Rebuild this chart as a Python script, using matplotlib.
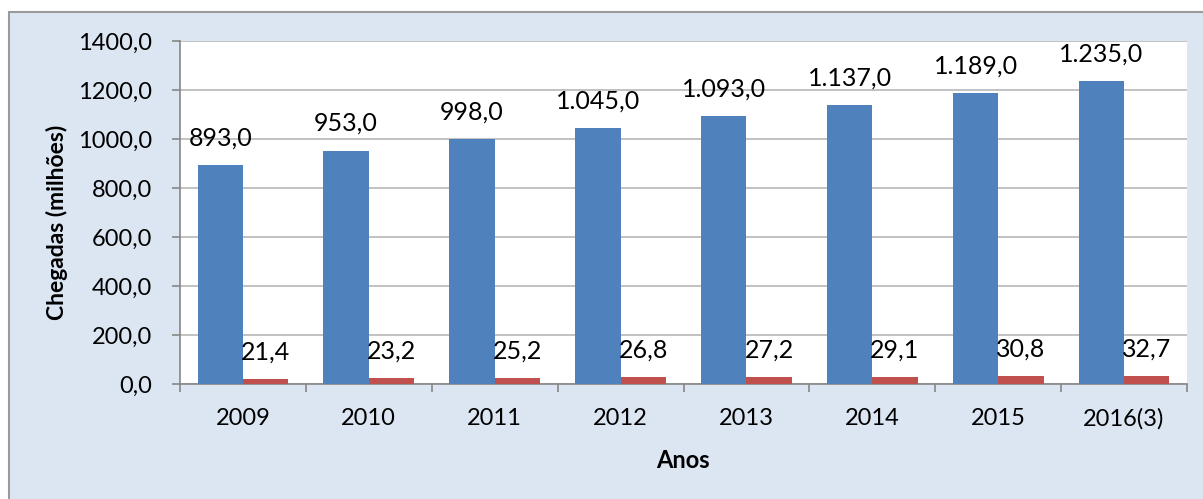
import matplotlib
matplotlib.use("Agg")
import matplotlib.pyplot as plt
from matplotlib.patches import Rectangle
import numpy as np

categories = ["2009", "2010", "2011", "2012", "2013", "2014", "2015", "2016(3)"]
world = [893.0, 953.0, 998.0, 1045.0, 1093.0, 1137.0, 1189.0, 1235.0]
region = [21.4, 23.2, 25.2, 26.8, 27.2, 29.1, 30.8, 32.7]
yticks = [0, 200, 400, 600, 800, 1000, 1200, 1400]

plt.rcParams['font.family'] = ['Lato', 'DejaVu Sans']

W, H = 1203, 499
fig = plt.figure(figsize=(W/100, H/100), dpi=100)
fig.patch.set_facecolor("white")
fig.patches.append(Rectangle((9/W, -0.1), 1.2, 1 - 12/H + 0.1, transform=fig.transFigure,
                             facecolor="#dce6f2", edgecolor="#9a9a9a", linewidth=1.5, zorder=-5))

ax = fig.add_axes([180/W, 1 - 384/H, (1187-180)/W, (384-41)/H])
ax.set_zorder(2)
ax.set_facecolor("white")

def fmt_num(v):
    s = f"{v:,.1f}"
    return s.replace(",", "X").replace(".", ",").replace("X", ".")

x = np.arange(len(categories))
w = 0.36
b1 = ax.bar(x - w/2, world, w, color="#4f81bd", zorder=3)
b2 = ax.bar(x + w/2, region, w, color="#c0504d", zorder=3)

for xi, v in zip(x - w/2, world):
    ax.annotate(fmt_num(v), (xi, v), xytext=(0, 19.5), textcoords="offset points",
                ha="center", va="center", fontsize=18, color="black")
for xi, v in zip(x + w/2, region):
    ax.annotate(fmt_num(v), (xi, v), xytext=(0, 19.5), textcoords="offset points",
                ha="center", va="center", fontsize=18, color="black")

ax.set_xlim(-0.5, len(categories) - 0.5)
ax.set_ylim(0, 1400)
ax.set_yticks(yticks)
ax.set_yticklabels([f"{t:.1f}".replace(".", ",") for t in yticks], fontsize=17)
ax.grid(axis="y", color="#b8b8b8", linewidth=1.2, zorder=0)
ax.set_axisbelow(True)

ax.set_xticks(x)
ax.set_xticklabels(categories, fontsize=17)
ax.tick_params(axis="x", length=0, pad=17)
ax.set_xticks(np.arange(-0.5, len(categories)), minor=True)
ax.tick_params(axis="x", which="minor", length=6, color="#868686", width=1.2)
ax.tick_params(axis="y", length=6, color="#868686", width=1.2, pad=14)

for s in ["top", "right"]:
    ax.spines[s].set_visible(False)
for s in ["left", "bottom"]:
    ax.spines[s].set_color("#868686")
    ax.spines[s].set_linewidth(1.2)

fig.text(57/W, 1 - 222/H, "Chegadas (milhões)", rotation=90, ha="center", va="center",
         fontsize=16.5, fontweight="bold")
fig.text(683/W, 1 - 460/H, "Anos", ha="center", va="center", fontsize=17, fontweight="bold")

fig.savefig("out.png", dpi=100)
